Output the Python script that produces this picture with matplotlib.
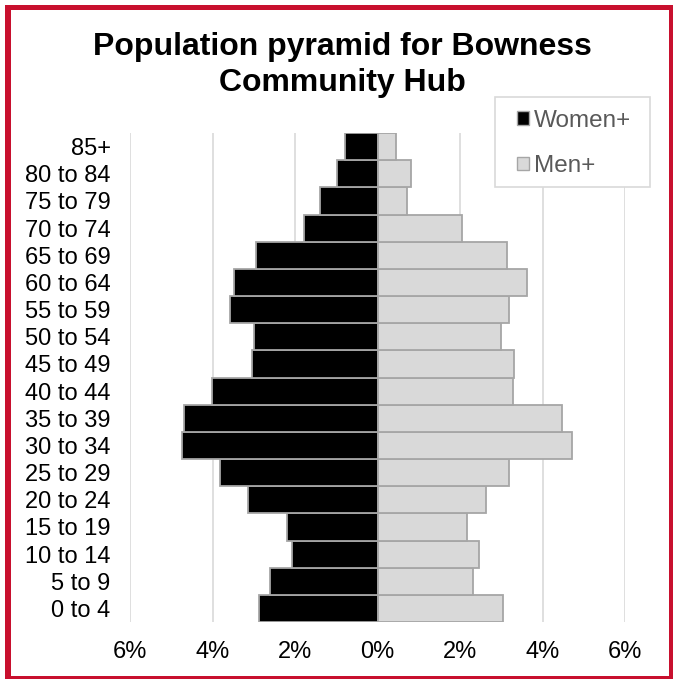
import matplotlib
matplotlib.use("Agg")
import matplotlib.pyplot as plt
from matplotlib.patches import Rectangle
from matplotlib.ticker import FuncFormatter

plt.rcParams['font.family'] = ['Liberation Sans', 'DejaVu Sans']

ages = ["0 to 4", "5 to 9", "10 to 14", "15 to 19", "20 to 24", "25 to 29",
        "30 to 34", "35 to 39", "40 to 44", "45 to 49", "50 to 54", "55 to 59",
        "60 to 64", "65 to 69", "70 to 74", "75 to 79", "80 to 84", "85+"]
women = [2.87, 2.61, 2.08, 2.20, 3.14, 3.83, 4.73, 4.70, 4.01, 3.04, 3.00,
         3.57, 3.49, 2.94, 1.78, 1.40, 0.97, 0.78]
men = [3.04, 2.32, 2.47, 2.16, 2.63, 3.19, 4.72, 4.48, 3.29, 3.32, 3.00,
       3.19, 3.63, 3.13, 2.06, 0.72, 0.81, 0.44]
xticks = [-6, -4, -2, 0, 2, 4, 6]

W, H = 673, 679
fig = plt.figure(figsize=(W / 100, H / 100), dpi=100)
fig.patch.set_facecolor('white')

ax = fig.add_axes([130 / W, 1 - 622 / H, (625 - 130) / W, (622 - 133) / H])
y = list(range(len(ages)))
ax.barh(y, [-v for v in women], height=1.0, color='black', edgecolor='#A6A6A6',
        linewidth=1.3, zorder=3, label='Women+')
ax.barh(y, men, height=1.0, color='#D9D9D9', edgecolor='#A6A6A6',
        linewidth=1.3, zorder=3, label='Men+')

ax.set_xlim(-6, 6)
ax.set_ylim(-0.5, len(ages) - 0.5)
ax.set_xticks(xticks)
ax.xaxis.set_major_formatter(FuncFormatter(lambda v, p: f"{abs(int(round(v)))}%"))
ax.set_yticks(y)
ax.set_yticklabels(ages)
ax.tick_params(axis='both', length=0, labelsize=17, colors='black')
ax.tick_params(axis='y', pad=14)
ax.tick_params(axis='x', pad=14)
for s in ax.spines.values():
    s.set_visible(False)
ax.grid(axis='x', color='#D9D9D9', linewidth=1.2, zorder=0)
ax.set_axisbelow(True)

# Title
fig.text(342 / W, 1 - 65 / H, "Population pyramid for Bowness\nCommunity Hub",
         ha='center', va='center', fontsize=23, fontweight='bold',
         linespacing=1.3)

# Legend (frame drawn separately)
fig.patches.append(Rectangle((495 / W, 1 - 187 / H), 155 / W, 90 / H,
                             transform=fig.transFigure, facecolor='white',
                             edgecolor='#D9D9D9', linewidth=1.2, zorder=5))
handles = [Rectangle((0, 0), 1, 1, facecolor='black', edgecolor='#A6A6A6', linewidth=1),
           Rectangle((0, 0), 1, 1, facecolor='#D9D9D9', edgecolor='#A6A6A6', linewidth=1)]
leg = fig.legend(handles, ['Women+', 'Men+'], loc='upper left',
                 bbox_to_anchor=(517 / W, 1 - 110 / H), fontsize=17.5,
                 frameon=False, handlelength=0.5, handleheight=0.5,
                 handletextpad=0.18, labelspacing=0.95, borderpad=0,
                 borderaxespad=0)
leg.set_zorder(6)
for t in leg.get_texts():
    t.set_color('#595959')

# Red border
red = '#C8102E'
fig.patches.append(Rectangle((5 / W, 1 - 10 / H), 668 / W, 5 / H, transform=fig.transFigure,
                             facecolor=red, edgecolor='none'))
fig.patches.append(Rectangle((5 / W, 1 - 679 / H), 6 / W, 674 / H, transform=fig.transFigure,
                             facecolor=red, edgecolor='none'))
fig.patches.append(Rectangle((5 / W, 0), 668 / W, 3 / H, transform=fig.transFigure,
                             facecolor=red, edgecolor='none'))
fig.patches.append(Rectangle((669 / W, 1 - 679 / H), 4 / W, 674 / H, transform=fig.transFigure,
                             facecolor=red, edgecolor='none'))

fig.savefig('out.png', dpi=100, facecolor='white')
